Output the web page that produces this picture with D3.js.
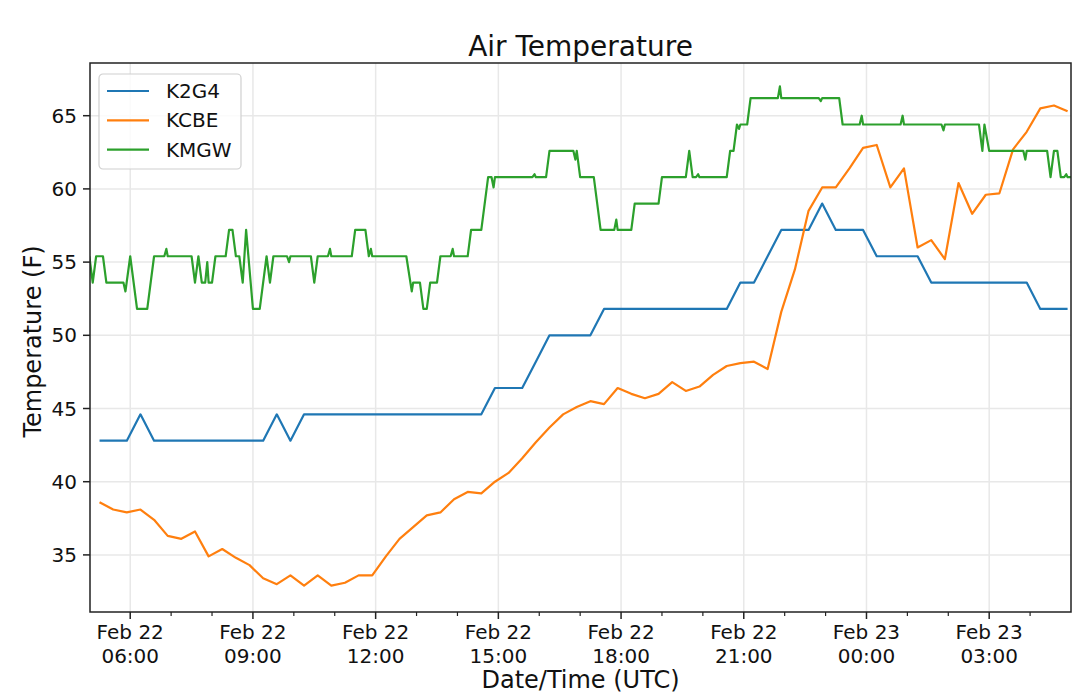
<!DOCTYPE html>
<html>
<head>
<meta charset="utf-8">
<script src="https://cdn.jsdelivr.net/npm/d3@7"></script>
<style>
  body { margin: 0; background: #fff; }
  svg { display: block; font-family: "DejaVu Sans", sans-serif; }
</style>
</head>
<body>
<div id="chart"></div>
<script>
const STATIONS = ['K2G4', 'KCBE', 'KMGW'];
const COLORS = ['#1f77b4', '#ff7f0e', '#2ca02c'];

// K2G4 and KCBE report every 20 minutes (UTC, Feb 22 -> Feb 23)
const SAMPLE_TIMES = [
  '05:15','05:35','05:55', '06:15','06:35','06:55', '07:15','07:35','07:55', '08:15','08:35','08:55',
  '09:15','09:35','09:55', '10:15','10:35','10:55', '11:15','11:35','11:55', '12:15','12:35','12:55',
  '13:15','13:35','13:55', '14:15','14:35','14:55', '15:15','15:35','15:55', '16:15','16:35','16:55',
  '17:15','17:35','17:55', '18:15','18:35','18:55', '19:15','19:35','19:55', '20:15','20:35','20:55',
  '21:15','21:35','21:55', '22:15','22:35','22:55', '23:15','23:35','23:55', '00:15','00:35','00:55',
  '01:15','01:35','01:55', '02:15','02:35','02:55', '03:15','03:35','03:55', '04:15','04:35','04:55',
];

const K2G4 = [
  42.8, 42.8, 42.8,  44.6, 42.8, 42.8,  42.8, 42.8, 42.8,  42.8, 42.8, 42.8,
  42.8, 44.6, 42.8,  44.6, 44.6, 44.6,  44.6, 44.6, 44.6,  44.6, 44.6, 44.6,
  44.6, 44.6, 44.6,  44.6, 44.6, 46.4,  46.4, 46.4, 48.2,  50.0, 50.0, 50.0,
  50.0, 51.8, 51.8,  51.8, 51.8, 51.8,  51.8, 51.8, 51.8,  51.8, 51.8, 53.6,
  53.6, 55.4, 57.2,  57.2, 57.2, 59.0,  57.2, 57.2, 57.2,  55.4, 55.4, 55.4,
  55.4, 53.6, 53.6,  53.6, 53.6, 53.6,  53.6, 53.6, 53.6,  51.8, 51.8, 51.8,
];

const KCBE = [
  38.6, 38.1, 37.9,  38.1, 37.4, 36.3,  36.1, 36.6, 34.9,  35.4, 34.8, 34.3,
  33.4, 33.0, 33.6,  32.9, 33.6, 32.9,  33.1, 33.6, 33.6,  34.9, 36.1, 36.9,
  37.7, 37.9, 38.8,  39.3, 39.2, 40.0,  40.6, 41.6, 42.7,  43.7, 44.6, 45.1,
  45.5, 45.3, 46.4,  46.0, 45.7, 46.0,  46.8, 46.2, 46.5,  47.3, 47.9, 48.1,
  48.2, 47.7, 51.6,  54.5, 58.5, 60.1,  60.1, 61.4, 62.8,  63.0, 60.1, 61.4,
  56.0, 56.5, 55.2,  60.4, 58.3, 59.6,  59.7, 62.7, 63.9,  65.5, 65.7, 65.3,
];

// KMGW: 5-minute obs plus the :53 hourly report; only the points where the line turns
const KMGW_TIMES = [
  '05:00','05:05','05:10','05:20','05:25','05:50','05:53',
  '06:00','06:10','06:25','06:35','06:50','06:53','06:55',
  '07:30','07:35','07:40','07:45','07:50','07:53','07:55',
  '08:00','08:05','08:20','08:25','08:30','08:35','08:40','08:45','08:50',
  '09:00','09:10','09:20','09:25','09:30','09:50','09:53','09:55',
  '10:25','10:30','10:35','10:50','10:53','10:55',
  '11:25','11:30','11:45','11:50','11:53','11:55',
  '12:45','12:53','12:55',
  '13:05','13:10','13:15','13:20','13:30','13:35','13:50','13:53','13:55',
  '14:15','14:20','14:35','14:45','14:50','14:53','14:55',
  '15:50','15:53','15:55',
  '16:10','16:15','16:50','16:53','16:55',
  '17:00','17:20','17:30','17:50','17:53','17:55',
  '18:15','18:20','18:55',
  '19:00','19:35','19:40','19:45','19:50','19:53','19:55',
  '20:35','20:40','20:45','20:50','20:53','20:55',
  '21:05','21:10','21:50','21:53','21:55',
  '22:50','22:53','22:55',
  '23:20','23:25','23:50','23:53','23:55',
  '00:50','00:53','00:55',
  '01:50','01:53','01:55',
  '02:45','02:50','02:53',
  '03:00','03:50','03:53','03:55',
  '04:25','04:30','04:35','04:40','04:45','04:50','04:53','04:55','05:00',
];

const KMGW = [
  55.4, 53.6, 55.4, 55.4, 53.6, 53.6, 53.0,
  55.4, 51.8, 51.8, 55.4, 55.4, 55.9, 55.4,
  55.4, 53.6, 55.4, 53.6, 53.6, 55.0, 53.6,
  53.6, 55.4, 55.4, 57.2, 57.2, 55.4, 55.4, 53.6, 57.2,
  51.8, 51.8, 55.4, 53.6, 55.4, 55.4, 55.0, 55.4,
  55.4, 53.6, 55.4, 55.4, 55.9, 55.4,
  55.4, 57.2, 57.2, 55.4, 55.9, 55.4,
  55.4, 53.0, 53.6,
  53.6, 51.8, 51.8, 53.6, 53.6, 55.4, 55.4, 55.9, 55.4,
  55.4, 57.2, 57.2, 60.8, 60.8, 60.1, 60.8,
  60.8, 61.0, 60.8,
  60.8, 62.6, 62.6, 62.0, 62.6,
  60.8, 60.8, 57.2, 57.2, 57.9, 57.2,
  57.2, 59.0, 59.0,
  60.8, 60.8, 62.6, 60.8, 60.8, 61.0, 60.8,
  60.8, 62.6, 62.6, 64.4, 64.1, 64.4,
  64.4, 66.2, 66.2, 67.0, 66.2,
  66.2, 66.0, 66.2,
  66.2, 64.4, 64.4, 65.0, 64.4,
  64.4, 65.0, 64.4,
  64.4, 64.0, 64.4,
  64.4, 62.6, 64.4,
  62.6, 62.6, 62.0, 62.6,
  62.6, 60.8, 62.6, 62.6, 60.8, 60.8, 61.0, 60.8, 60.8,
];

const Y_TICKS = [35, 40, 45, 50, 55, 60, 65];

// "HH:MM" list -> Dates, rolling over to the next day when the clock wraps
function toDates(times) {
  let day = 22, prev = -1;
  return times.map(t => {
    const [h, m] = t.split(':').map(Number);
    if (h * 60 + m < prev) day++;
    prev = h * 60 + m;
    return new Date(Date.UTC(2018, 1, day, h, m));
  });
}

const sampleDates = toDates(SAMPLE_TIMES);
const series = [
  { name: STATIONS[0], color: COLORS[0], values: sampleDates.map((d, i) => ({ date: d, temp: K2G4[i] })) },
  { name: STATIONS[1], color: COLORS[1], values: sampleDates.map((d, i) => ({ date: d, temp: KCBE[i] })) },
  { name: STATIONS[2], color: COLORS[2], values: toDates(KMGW_TIMES).map((d, i) => ({ date: d, temp: KMGW[i] })) },
];

const width = 1080, height = 695;
const margin = { top: 63, right: 9, bottom: 83, left: 90 };
const innerW = width - margin.left - margin.right;
const innerH = height - margin.top - margin.bottom;

const svg = d3.select('#chart').append('svg')
  .attr('width', width)
  .attr('height', height);

const g = svg.append('g').attr('transform', `translate(${margin.left},${margin.top})`);

const x = d3.scaleUtc()
  .domain([new Date(Date.UTC(2018, 1, 22, 5, 1)), new Date(Date.UTC(2018, 1, 23, 5, 0))])
  .range([0, innerW]);

const y = d3.scaleLinear()
  .domain([31.1, 68.6])
  .range([innerH, 0]);

svg.append('defs').append('clipPath').attr('id', 'plot-clip')
  .append('rect').attr('width', innerW).attr('height', innerH);

const majorTicks = x.ticks(d3.utcHour.every(3));
const minorTicks = x.ticks(d3.utcHour.every(1)).filter(t => t.getUTCHours() % 3 !== 0 && x(t) < innerW - 1);

// grid
g.append('g').selectAll('line').data(majorTicks).join('line')
  .attr('x1', d => x(d)).attr('x2', d => x(d))
  .attr('y1', 0).attr('y2', innerH)
  .attr('stroke', '#e8e8e8').attr('stroke-width', 1.5);

g.append('g').selectAll('line').data(Y_TICKS).join('line')
  .attr('x1', 0).attr('x2', innerW)
  .attr('y1', d => y(d)).attr('y2', d => y(d))
  .attr('stroke', '#e8e8e8').attr('stroke-width', 1.5);

// lines
const line = d3.line()
  .x(d => x(d.date))
  .y(d => y(d.temp));

g.append('g').attr('clip-path', 'url(#plot-clip)')
  .selectAll('path').data(series).join('path')
  .attr('d', d => line(d.values))
  .attr('fill', 'none')
  .attr('stroke', d => d.color)
  .attr('stroke-width', 2.2)
  .attr('stroke-linejoin', 'round');

// x axis: major ticks with two-line labels, hourly minor ticks
const xAxis = g.append('g').attr('transform', `translate(0,${innerH})`);

xAxis.selectAll('.minor').data(minorTicks).join('line')
  .attr('class', 'minor')
  .attr('x1', d => x(d)).attr('x2', d => x(d))
  .attr('y1', 0).attr('y2', 4)
  .attr('stroke', '#222').attr('stroke-width', 1.2);

const major = xAxis.selectAll('.major').data(majorTicks).join('g')
  .attr('class', 'major')
  .attr('transform', d => `translate(${x(d)},0)`);

major.append('line').attr('y2', 7).attr('stroke', '#222').attr('stroke-width', 1.5);

const fmtDay = d3.utcFormat('%b %d');
const fmtTime = d3.utcFormat('%H:%M');
const label = major.append('text')
  .attr('text-anchor', 'middle')
  .attr('font-size', 20)
  .attr('fill', '#111');
label.append('tspan').attr('x', 0).attr('y', 27).text(d => fmtDay(d));
label.append('tspan').attr('x', 0).attr('y', 51).text(d => fmtTime(d));

// y axis
const yAxis = g.append('g');
const yTick = yAxis.selectAll('g').data(Y_TICKS).join('g')
  .attr('transform', d => `translate(0,${y(d)})`);
yTick.append('line').attr('x2', -7).attr('stroke', '#222').attr('stroke-width', 1.5);
yTick.append('text')
  .attr('x', -13)
  .attr('dy', '0.35em')
  .attr('text-anchor', 'end')
  .attr('font-size', 20)
  .attr('fill', '#111')
  .text(d => d);

// frame
g.append('rect')
  .attr('width', innerW).attr('height', innerH)
  .attr('fill', 'none')
  .attr('stroke', '#222').attr('stroke-width', 1.5);

// titles
svg.append('text')
  .attr('x', margin.left + innerW / 2).attr('y', 56)
  .attr('text-anchor', 'middle')
  .attr('font-size', 28)
  .attr('fill', '#111')
  .text('Air Temperature');

svg.append('text')
  .attr('x', margin.left + innerW / 2).attr('y', 688)
  .attr('text-anchor', 'middle')
  .attr('font-size', 24)
  .attr('fill', '#111')
  .text('Date/Time (UTC)');

svg.append('text')
  .attr('transform', `translate(41,${margin.top + innerH / 2 + 4}) rotate(-90)`)
  .attr('text-anchor', 'middle')
  .attr('font-size', 24)
  .attr('fill', '#111')
  .text('Temperature (F)');

// legend
const legend = g.append('g').attr('transform', 'translate(9,11)');
legend.append('rect')
  .attr('width', 142).attr('height', 95)
  .attr('rx', 4)
  .attr('fill', '#fff').attr('fill-opacity', 0.8)
  .attr('stroke', '#d0d0d0').attr('stroke-width', 1.2);

const item = legend.selectAll('.item').data(series).join('g')
  .attr('class', 'item')
  .attr('transform', (d, i) => `translate(0,${17 + i * 29.3})`);
item.append('line')
  .attr('x1', 8).attr('x2', 50)
  .attr('stroke', d => d.color).attr('stroke-width', 2.2);
item.append('text')
  .attr('x', 67)
  .attr('dy', '0.35em')
  .attr('font-size', 20)
  .attr('fill', '#111')
  .text(d => d.name);
</script>
</body>
</html>
